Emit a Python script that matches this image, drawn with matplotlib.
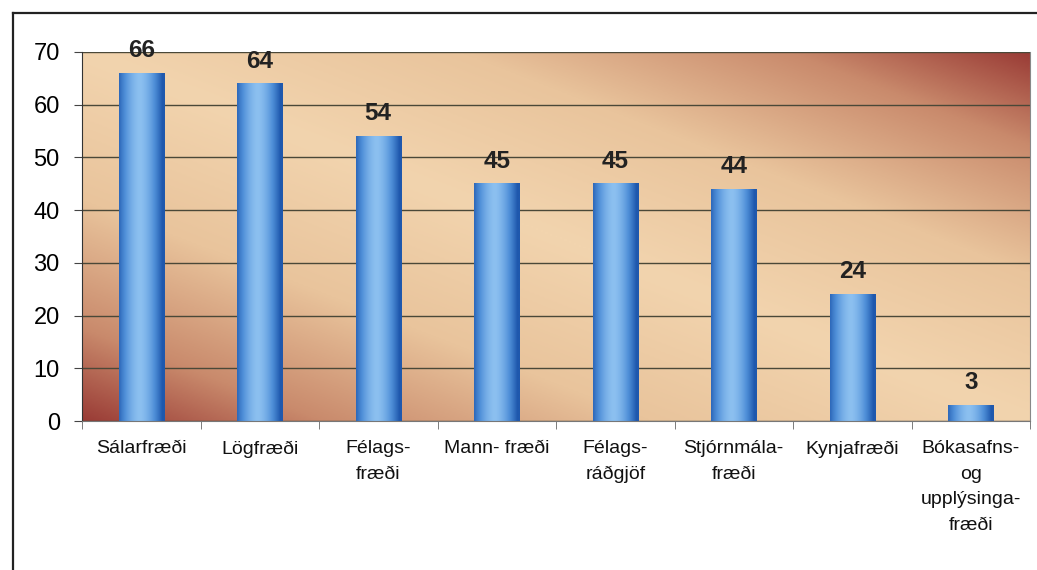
import numpy as np
import matplotlib
matplotlib.use('Agg')
import matplotlib.pyplot as plt
import matplotlib.colors as mcolors
from matplotlib.lines import Line2D

# gögn
categories = ["Sálarfræði", "Lögfræði", "Félags-\nfræði", "Mann- fræði",
              "Félags-\nráðgjöf", "Stjórnmála-\nfræði", "Kynjafræði",
              "Bókasafns-\nog\nupplýsinga-\nfræði"]
values = [66, 64, 54, 45, 45, 44, 24, 3]
y_ticks = [0, 10, 20, 30, 40, 50, 60, 70]

W, H = 1037, 570
fig = plt.figure(figsize=(W / 100, H / 100), dpi=100)
fig.patch.set_facecolor("white")
plt.rcParams['font.family'] = ['Liberation Sans', 'DejaVu Sans']

# ytri rammi (nær út fyrir myndina hægra megin og neðst)
x0, y0 = 12.5 / W, 1 - 13 / H
fig.add_artist(Line2D([x0, 1.01], [y0, y0], color="#222222", lw=1.6, transform=fig.transFigure))
fig.add_artist(Line2D([x0, x0], [y0, -0.01], color="#222222", lw=1.6, transform=fig.transFigure))

ax = fig.add_axes([82 / W, 1 - 421 / H, (1030 - 82) / W, (421 - 52) / H])
n = len(categories)

# bakgrunnur: ljós á ská frá efra vinstra horni niður í neðra hægra, dökkur í hinum hornum
gu, gv = np.meshgrid(np.linspace(0, 1, 400), np.linspace(1, 0, 200))
t = np.abs(gu + gv - 1)
bg_cmap = mcolors.LinearSegmentedColormap.from_list(
    "bg", [(0.0, "#f2d4ae"), (0.4, "#e9c49c"), (0.75, "#c98a6c"), (1.0, "#9a3c36")])
ax.imshow(bg_cmap(t), extent=[-0.5, n - 0.5, 0, 70], aspect="auto", zorder=0,
          interpolation="bilinear")

ax.set_yticks(y_ticks)
ax.grid(axis="y", color="#4a4838", lw=1.0, zorder=1)
ax.set_axisbelow(True)

# súlur með sívalningslit
bar_w = 0.38
prof = np.linspace(-1, 1, 64)
shade = 1 - np.abs(prof + 0.1) ** 1.6
bar_cmap = mcolors.LinearSegmentedColormap.from_list("bar", ["#1f58ad", "#4f8fd8", "#8cc0f0"])
grad = bar_cmap(np.clip(shade, 0, 1))[np.newaxis, :, :]
for i, v in enumerate(values):
    ax.imshow(grad, extent=[i - bar_w / 2, i + bar_w / 2, 0, v], aspect="auto",
              zorder=2, interpolation="bilinear")
    ax.annotate(str(v), (i, v), xytext=(0, 8), textcoords="offset points",
                ha="center", va="bottom", fontsize=17.5, fontweight="bold",
                color="#222222", zorder=4)
ax.set_xlim(-0.5, n - 0.5)
ax.set_ylim(0, 70)

ax.set_xticks(range(n))
ax.set_xticklabels(categories, fontsize=14, linespacing=1.65, va="top", color="#111111")
ax.set_xticks(np.arange(-0.5, n, 1), minor=True)
ax.tick_params(axis="x", which="major", length=0, pad=14)
ax.tick_params(axis="x", which="minor", length=6, color="#666666")
ax.tick_params(axis="y", length=6, pad=10, labelsize=17, color="#444444")

ax.spines["left"].set_color("#333333")
ax.spines["bottom"].set_color("#777777")
ax.spines["top"].set_visible(False)
ax.spines["right"].set_color("#888888")
ax.spines["right"].set_linewidth(0.8)

fig.savefig("out.png", dpi=100)
